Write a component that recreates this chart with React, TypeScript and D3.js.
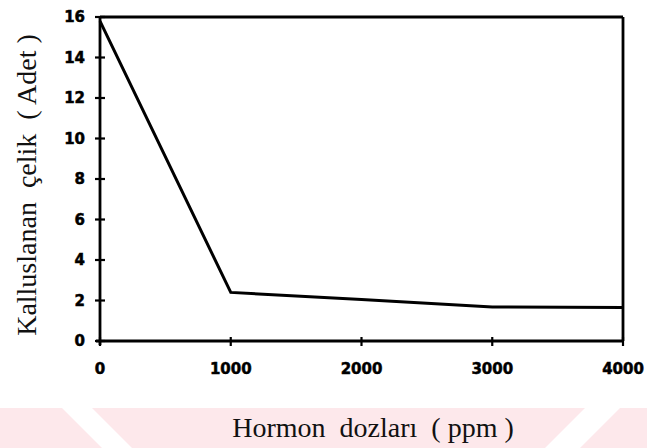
import React from 'react';
import * as d3 from 'd3';

// hormone dose (ppm) vs number of callused cuttings
const doses = [0, 1000, 2000, 3000, 4000];
const callusCounts = [15.8, 2.4, 2.05, 1.68, 1.65];
const xTicks = [0, 1000, 2000, 3000, 4000];
const yTicks = [0, 2, 4, 6, 8, 10, 12, 14, 16];

const W = 647;
const H = 448;
const margin = { top: 17, right: 24, bottom: 107, left: 100 };

const App = () => {
  const innerW = W - margin.left - margin.right;
  const innerH = H - margin.top - margin.bottom;

  const x = d3.scaleLinear().domain([0, 4000]).range([0, innerW]);
  const y = d3.scaleLinear().domain([0, 16]).range([innerH, 0]);

  const line = d3.line<number>()
    .x((_, i) => x(doses[i]))
    .y(d => y(d));

  const tickFont = {
    fontFamily: '"DejaVu Sans", sans-serif', fontWeight: 'bold', fontSize: 15,
    stroke: '#000', strokeWidth: 0.5,
  };
  const titleFont = { fontFamily: '"Liberation Serif", "Times New Roman", serif', fontSize: 28, fill: '#111' };

  return (
    <div style={{ position: 'fixed', left: 0, top: 0 }}>
      <svg width={W} height={H} style={{ display: 'block', background: '#fff' }}>
        {/* faint watermark stripes at the bottom */}
        <g fill="#fde8eb">
          <polygon points="0,408 62,408 102,448 0,448" />
          <polygon points="92,408 585,408 545,448 132,448" />
          <polygon points="620,408 647,408 647,448 580,448" />
        </g>

        <g transform={`translate(${margin.left},${margin.top})`}>
          {/* frame */}
          <line x1={0} x2={innerW} y1={0} y2={0} stroke="#000" strokeWidth={2.8} />
          <line x1={innerW} x2={innerW} y1={0} y2={innerH} stroke="#000" strokeWidth={2.8} />
          <line x1={0} x2={0} y1={-1} y2={innerH + 4} stroke="#000" strokeWidth={2.8} />
          <line x1={-4} x2={innerW} y1={innerH} y2={innerH} stroke="#000" strokeWidth={2.8} />

          {yTicks.map(t => (
            <g key={'y' + t} transform={`translate(0,${y(t)})`}>
              <line x1={-5} x2={5} stroke="#000" strokeWidth={2.2} />
              <text x={-15} dy="0.36em" textAnchor="end" {...tickFont}>{t}</text>
            </g>
          ))}

          {xTicks.map(t => (
            <g key={'x' + t} transform={`translate(${x(t)},${innerH})`}>
              <line y1={-4} y2={5} stroke="#000" strokeWidth={2.2} />
              <text y={28} dy="0.36em" textAnchor="middle" {...tickFont}>{t}</text>
            </g>
          ))}

          <path d={line(callusCounts) || ''} fill="none" stroke="#000" strokeWidth={3} strokeLinejoin="miter" />
        </g>

        <text
          transform={`translate(36,${margin.top + innerH / 2 + 6}) rotate(-90)`}
          textAnchor="middle"
          {...titleFont}
          style={{ whiteSpace: 'pre' }}
        >
          {'Kalluslanan  çelik  ( Adet )'}
        </text>
        <text x={373} y={437} textAnchor="middle" {...titleFont} style={{ whiteSpace: 'pre' }}>
          {'Hormon  dozları  ( ppm )'}
        </text>
      </svg>
    </div>
  );
};

export default App;
